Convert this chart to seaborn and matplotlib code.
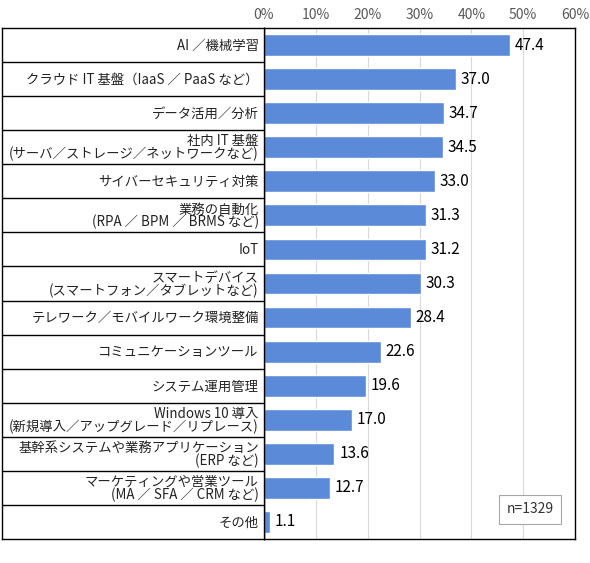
import matplotlib
matplotlib.use("Agg")
import matplotlib.pyplot as plt
import seaborn as sns
import pandas as pd

sns.set_theme(style="white")
plt.rcParams['font.family'] = ['Noto Sans CJK JP', 'DejaVu Sans']

# --- data ---
categories = [
    "AI ／機械学習",
    "クラウド IT 基盤（IaaS ／ PaaS など）",
    "データ活用／分析",
    "社内 IT 基盤\n(サーバ／ストレージ／ネットワークなど)",
    "サイバーセキュリティ対策",
    "業務の自動化\n(RPA ／ BPM ／ BRMS など)",
    "IoT",
    "スマートデバイス\n(スマートフォン／タブレットなど)",
    "テレワーク／モバイルワーク環境整備",
    "コミュニケーションツール",
    "システム運用管理",
    "Windows 10 導入\n(新規導入／アップグレード／リプレース)",
    "基幹系システムや業務アプリケーション\n(ERP など)",
    "マーケティングや営業ツール\n(MA ／ SFA ／ CRM など)",
    "その他",
]
values = [47.4, 37.0, 34.7, 34.5, 33.0, 31.3, 31.2, 30.3, 28.4, 22.6, 19.6, 17.0, 13.6, 12.7, 1.1]
x_ticks = [0, 10, 20, 30, 40, 50, 60]
n_label = "n=1329"

df = pd.DataFrame({"item": categories, "pct": values})

W, H = 590, 563
fig = plt.figure(figsize=(W / 100, H / 100), dpi=100)
left, right, top, bottom = 264, 575, 28, 539
ax = fig.add_axes([left / W, 1 - bottom / H, (right - left) / W, (bottom - top) / H])
lax = fig.add_axes([2 / W, 1 - bottom / H, (left - 2) / W, (bottom - top) / H])

bar_color = "#5B8BD8"
sns.barplot(data=df, x="pct", y="item", orient="h", color=bar_color,
            width=0.64, saturation=1, ax=ax)

ax.set_xlim(0, 60)
ax.set_ylim(len(categories) - 0.5, -0.5)
ax.set_xticks(x_ticks)
ax.set_xticklabels([f"{t}%" for t in x_ticks], fontsize=10, color="#595959")
ax.xaxis.tick_top()
ax.tick_params(axis="x", length=0, pad=4)
ax.set_yticks([])
ax.set_xlabel("")
ax.set_ylabel("")
ax.grid(axis="x", color="#D9D9D9", linewidth=0.8)
ax.set_axisbelow(True)
for s in ax.spines.values():
    s.set_color("black")
    s.set_linewidth(1.0)

for i, v in enumerate(values):
    ax.text(v + 0.9, i, f"{v:.1f}", va="center", ha="left", fontsize=11, color="black")

ax.text(0.855, 0.058, n_label, transform=ax.transAxes, ha="center", va="center",
        fontsize=10, color="#333333",
        bbox=dict(boxstyle="square,pad=0.55", facecolor="white", edgecolor="#A6A6A6", linewidth=0.8))

# label table on the left
lax.set_xlim(0, 1)
lax.set_ylim(len(categories) - 0.5, -0.5)
lax.set_xticks([])
lax.set_yticks([])
for s in lax.spines.values():
    s.set_color("black")
    s.set_linewidth(1.0)
for i in range(len(categories) - 1):
    lax.axhline(i + 0.5, color="black", linewidth=1.0)
for i, lab in enumerate(categories):
    lax.text(0.98, i + 0.02, lab, ha="right", va="center", fontsize=9.6,
             color="#222222", linespacing=0.88)

fig.savefig("out.png", dpi=100)
